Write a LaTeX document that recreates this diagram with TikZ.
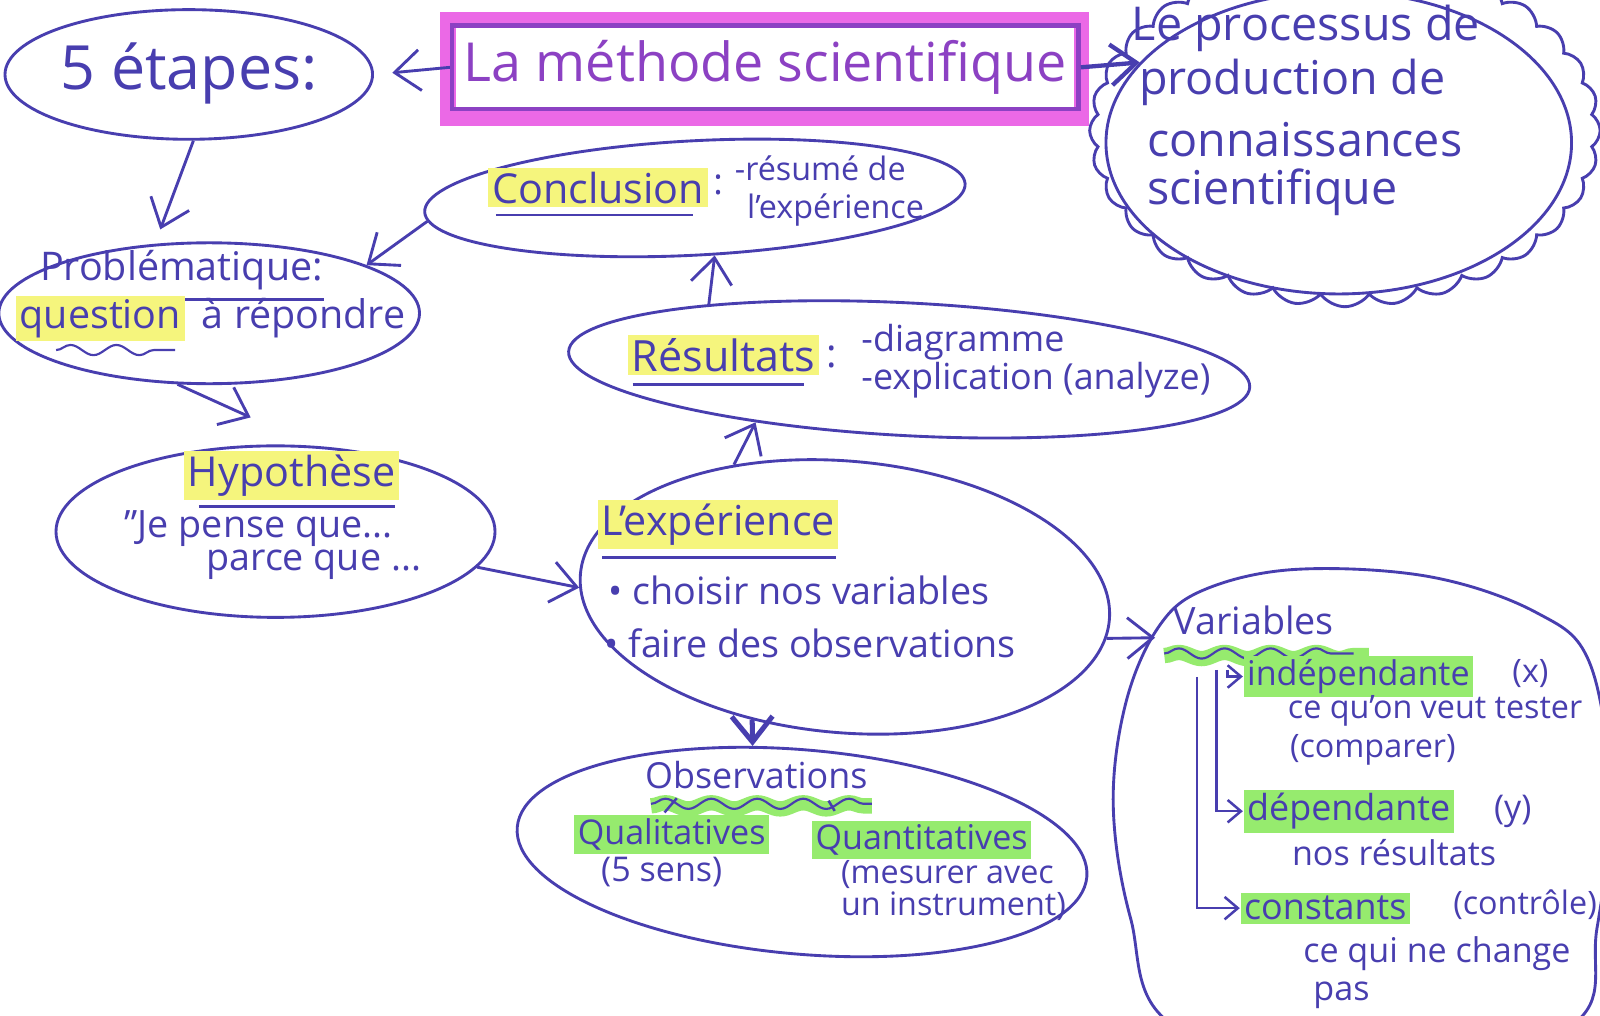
\documentclass[tikz,border=0pt]{standalone}
\usepackage{fontspec}
\setmainfont{Open Sans}
\usetikzlibrary{shapes.geometric,shapes.symbols,arrows.meta,decorations.pathmorphing,calc}
\definecolor{ink}{RGB}{72,62,175}
\definecolor{titlepurple}{RGB}{140,65,195}
\definecolor{pinkband}{RGB}{235,105,230}
\definecolor{hly}{RGB}{245,245,125}
\definecolor{hlg}{RGB}{150,235,110}
\begin{document}
\begin{tikzpicture}[x=0.01cm,y=-0.01cm,
  ell/.style={draw=ink,line width=0.8pt,ellipse,inner sep=0pt},
  arr/.style={draw=ink,line width=0.8pt,-{Straight Barb[length=2.5mm,width=4mm]}},
  arrsmall/.style={draw=ink,line width=0.7pt,-{Straight Barb[length=1.3mm,width=2.2mm]}},
  txt/.style={text=ink,anchor=west,inner sep=1pt},
  fs/.style={font=\fontsize{#1}{#1}\selectfont},
  wavy/.style={draw=ink,line width=0.6pt,decorate,decoration={snake,amplitude=0.5mm,segment length=4.5mm}},
  greenband/.style={draw=hlg,line width=1.5mm,decorate,decoration={snake,amplitude=0.3mm,segment length=4.5mm}},
  uline/.style={draw=ink,line width=0.7pt}
]
\clip (0,0) rectangle (1568,995);
\fill[white] (0,0) rectangle (1568,995);

% ellipses
\node[ell,minimum width=3.6cm,minimum height=1.27cm] (etapes) at (185,73) {};
\node[ell,minimum width=4.12cm,minimum height=1.38cm] (prob) at (205,307) {};
\node[ell,rotate=3,minimum width=5.3cm,minimum height=1.12cm] (conc) at (681,194) {};
\node[ell,rotate=-3,minimum width=6.68cm,minimum height=1.3cm] (res) at (891,362) {};
\node[ell,minimum width=4.3cm,minimum height=1.68cm] (hyp) at (270,521) {};
\node[ell,rotate=-5,minimum width=5.2cm,minimum height=2.66cm] (exp) at (828,585) {};
\node[ell,rotate=-5,minimum width=5.6cm,minimum height=2.0cm] (obs) at (786,835) {};
\node[cloud,draw=ink,line width=0.8pt,cloud puffs=32,cloud puff arc=110,cloud ignores aspect,minimum width=5.0cm,minimum height=3.45cm] (cloud) at (1318,128) {};
\node[ell,minimum width=4.56cm,minimum height=2.96cm] (proc) at (1312,140) {};
\draw[ink,line width=0.8pt] plot[smooth cycle,tension=0.6] coordinates {(1150,1005) (1108,900) (1091,790) (1103,690) (1135,615) (1180,578) (1270,558) (1400,565) (1505,600) (1558,650) (1578,780) (1565,910) (1540,1005) (1350,1060)};
\coordinate (varin) at (1132,625);

% title
\draw[pinkband,line width=1.5mm] (439,19) rectangle (1060,116);
\node[draw=titlepurple,line width=1.2pt,minimum width=6.06cm,minimum height=0.82cm,text=titlepurple,fs=15] (title) at (750,66) {La méthode scientifique};

% texts
\node[txt,fs=17] (etapesT) at (55,72) {5 étapes:};
\node[txt,fs=13] (p1) at (1105,28) {Le processus de};
\node[txt,fs=13] (p2) at (1112,81) {production de};
\node[txt,fs=13] (p3) at (1120,137) {connaissances};
\node[txt,fs=13] (p4) at (1120,188) {scientifique};

\node[txt,fs=11] (probT) at (35,265) {Problématique:};
\draw[uline] ([shift={(25,5)}]probT.south west) -- ([shift={(-3,5)}]probT.south east);
\node[txt,fs=11,fill=hly] (q1) at (15,312) {question};
\node[txt,fs=11] (q2) at ([xshift=0.12cm]q1.east) {à répondre};
\draw[wavy] ([shift={(40,8)}]q1.south west) -- ([shift={(-10,8)}]q1.south east);

\node[txt,fs=11.5,fill=hly] (concT) at (478,184) {Conclusion};
\draw[uline] ([shift={(8,7)}]concT.south west) -- ([shift={(-15,7)}]concT.south east);
\node[txt,fs=10] (colon1) at (695,181) {:};
\node[txt,fs=9] (c1) at (716,165) {-résumé de};
\node[txt,fs=9] (c2) at (728,206) {l'expérience};

\node[txt,fs=12,fill=hly] (resT) at (615,348) {Résultats};
\draw[uline] ([shift={(5,8)}]resT.south west) -- ([shift={(-15,8)}]resT.south east);
\node[txt,fs=11] (colon2) at (806,350) {:};
\node[txt,fs=10] (r1) at (840,335) {-diagramme};
\node[txt,fs=10] (r2) at (840,373) {-explication (analyze)};

\node[txt,fs=11.5,fill=hly] (hypT) at (180,466) {Hypothèse};
\draw[uline] ([shift={(15,6)}]hypT.south west) -- ([shift={(-5,6)}]hypT.south east);
\node[txt,fs=10.5] (h1) at (118,518) {"Je pense que...};
\node[txt,fs=10.5] (h2) at (198,553) {parce que ...};

\node[txt,fs=11.5,fill=hly] (expT) at (585,514) {L'expérience};
\draw[uline] ([shift={(5,8)}]expT.south west) -- ([shift={(-3,8)}]expT.south east);
\node[txt,fs=10.5] (e1) at (592,579) {• choisir nos variables};
\node[txt,fs=10.5] (e2) at (588,630) {• faire des observations};

\node[txt,fs=10] (obsT) at (628,760) {Observations};
\draw[greenband] ([shift={(10,12)}]obsT.south west) -- ([shift={(0,12)}]obsT.south east);
\draw[wavy] ([shift={(10,10)}]obsT.south west) -- ([shift={(0,10)}]obsT.south east);
\node[txt,fs=9.5,fill=hlg] (qual) at (562,818) {Qualitatives};
\node[txt,fs=9.5] (qual2) at (585,855) {(5 sens)};
\node[txt,fs=9.5,fill=hlg] (quan) at (795,823) {Quantitatives};
\node[txt,fs=9] (quan2) at (820,857) {(mesurer avec};
\node[txt,fs=9] (quan3) at (820,888) {un instrument)};
\draw[uline] ($(qual.north)+(5,-16)$) -- ($(qual.north)+(-7,-2)$);
\draw[uline] ($(quan.north west)+(17,-19)$) -- ($(quan.north west)+(23,-9)$);

\node[txt,fs=10.5] (varT) at (1146,608) {Variables};
\draw[greenband] ([shift={(-5,16)}]varT.south west) -- ([shift={(30,16)}]varT.south east);
\draw[wavy] ([shift={(-5,14)}]varT.south west) -- ([shift={(15,14)}]varT.south east);
\node[txt,fs=9.5,fill=hlg] (ind) at (1218,663) {indépendante};
\node[txt,fs=9] (indx) at (1478,660) {(x)};
\node[txt,fs=9] (ind2) at (1258,697) {ce qu'on veut tester};
\node[txt,fs=9] (ind3) at (1260,735) {(comparer)};
\node[txt,fs=10,fill=hlg] (dep) at (1218,795) {dépendante};
\node[txt,fs=9.5] (depy) at (1460,795) {(y)};
\node[txt,fs=9.5] (dep2) at (1262,836) {nos résultats};
\node[txt,fs=10,fill=hlg] (cst) at (1215,890) {constants};
\node[txt,fs=9] (cst2) at (1420,887) {(contrôle)};
\node[txt,fs=9.5] (cst3) at (1273,935) {ce qui ne change};
\node[txt,fs=9.5] (cst4) at (1283,975) {pas};

\draw[arrsmall] ($(varT.south west)+(57,30)$) |- (ind.west);
\draw[arrsmall] ($(varT.south west)+(46,30)$) |- (dep.west);
\draw[arrsmall] ($(varT.south west)+(27,37)$) |- (cst.west);

% connectors
\draw[arr,shorten >=0.18cm] (title.west) -- (etapes.east);
\draw[arr,line width=1.2pt] (title.east) -- (proc.158);
\draw[arr,shorten >=0.15cm] (etapes.-86) -- (prob.128);
\draw[arr] (conc.182) -- (prob.17);
\draw[arr] (res.165) -- (conc.-74);
\draw[arr] (exp.135) -- (res.202);
\draw[arr] (prob.246) -- ([yshift=0.27cm]hyp.106);
\draw[arr] (hyp.-10) -- (exp.183);
\draw[arr,line width=1.4pt] (exp.238) -- (obs.120);
\draw[arr] (exp.-4) -- (varin);
\end{tikzpicture}
\end{document}
